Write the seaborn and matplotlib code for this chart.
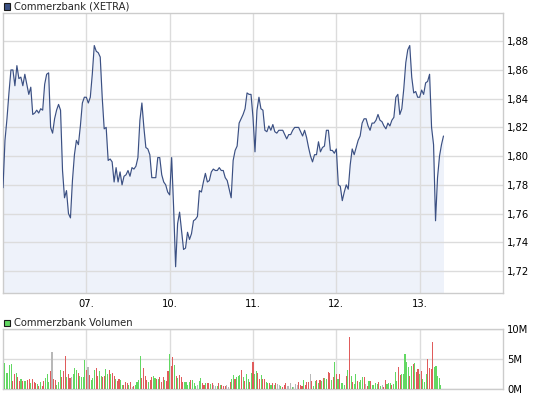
import numpy as np
import pandas as pd
import seaborn as sns
import matplotlib.pyplot as plt
from matplotlib.patches import Rectangle

# trading days shown on the x axis (weekend skipped)
day_labels = ['07.', '10.', '11.', '12.', '13.']
price_per_day = 42
vol_per_day = 51

# intraday price
price = [
    1.778, 1.811, 1.826, 1.844, 1.860, 1.860, 1.849, 1.863, 1.854, 1.855,
    1.849, 1.857, 1.850, 1.843, 1.848, 1.829, 1.830, 1.832, 1.830, 1.833,
    1.832, 1.850, 1.857, 1.858, 1.820, 1.816, 1.826, 1.832, 1.836, 1.832,
    1.790, 1.771, 1.776, 1.760, 1.757, 1.783, 1.801, 1.811, 1.808, 1.821,
    1.837, 1.841, 1.841, 1.837, 1.841, 1.857, 1.877, 1.873, 1.872, 1.869,
    1.841, 1.819, 1.820, 1.797, 1.798, 1.796, 1.782, 1.792, 1.782, 1.789,
    1.780, 1.786, 1.787, 1.790, 1.786, 1.792, 1.791, 1.793, 1.799, 1.825,
    1.837, 1.820, 1.806, 1.805, 1.801, 1.785, 1.785, 1.785, 1.799, 1.799,
    1.787, 1.782, 1.780, 1.775, 1.773, 1.799, 1.764, 1.723, 1.753, 1.761,
    1.748, 1.735, 1.736, 1.747, 1.742, 1.746, 1.755, 1.756, 1.758, 1.776,
    1.775, 1.782, 1.788, 1.782, 1.783, 1.789, 1.791, 1.790, 1.790, 1.792,
    1.790, 1.790, 1.785, 1.783, 1.777, 1.771, 1.797, 1.804, 1.807, 1.823,
    1.826, 1.829, 1.833, 1.844, 1.843, 1.843, 1.827, 1.803, 1.832, 1.841,
    1.833, 1.832, 1.818, 1.817, 1.821, 1.818, 1.822, 1.817, 1.816, 1.818,
    1.818, 1.818, 1.815, 1.812, 1.815, 1.815, 1.818, 1.820, 1.820, 1.820,
    1.817, 1.814, 1.818, 1.813, 1.806, 1.800, 1.796, 1.801, 1.801, 1.810,
    1.803, 1.806, 1.807, 1.818, 1.818, 1.804, 1.804, 1.802, 1.805, 1.780,
    1.779, 1.769, 1.775, 1.780, 1.777, 1.794, 1.805, 1.801, 1.806, 1.811,
    1.814, 1.823, 1.826, 1.826, 1.821, 1.818, 1.823, 1.823, 1.825, 1.829,
    1.825, 1.824, 1.821, 1.819, 1.823, 1.821, 1.825, 1.827, 1.841, 1.843,
    1.829, 1.833, 1.847, 1.865, 1.874, 1.877, 1.855, 1.844, 1.845, 1.841,
    1.841, 1.846, 1.843, 1.851, 1.852, 1.857, 1.820, 1.808, 1.755, 1.785,
    1.800, 1.808, 1.814,
]

# volume in millions, 10 minute bars
volume_m = [
    4.4, 2.7, 2.7, 4.0, 4.2, 1.3, 2.5, 2.7, 2.0, 1.3,
    1.7, 1.3, 1.3, 1.3, 1.5, 1.7, 1.0, 1.7, 1.2, 1.0,
    0.8, 0.5, 1.2, 0.5, 1.3, 1.8, 2.5, 1.2, 3.0, 6.2,
    1.7, 1.5, 0.7, 1.2, 3.2, 2.0, 3.0, 5.5, 2.0, 2.5,
    1.8, 2.0, 2.5, 3.5, 3.2, 2.7, 2.2, 2.0, 2.0, 4.9,
    3.2, 3.7, 2.3, 1.5, 1.8, 3.2, 3.5, 2.2, 3.0, 2.2,
    2.0, 2.2, 3.4, 2.5, 3.2, 2.5, 2.7, 2.2, 1.7, 1.3,
    1.7, 1.5, 0.7, 0.7, 1.2, 1.0, 0.7, 1.2, 0.3, 0.5,
    0.7, 1.2, 1.5, 5.5, 1.8, 3.5, 2.2, 1.5, 1.2, 1.5,
    2.0, 2.2, 1.8, 1.7, 1.7, 2.0, 1.2, 2.0, 1.5, 1.3,
    3.0, 5.9, 3.9, 5.4, 4.0, 2.2, 1.8, 2.3, 2.0, 1.2,
    1.2, 1.2, 0.7, 1.2, 1.5, 1.5, 1.0, 0.5, 0.7, 1.3,
    1.8, 1.0, 0.7, 1.0, 1.0, 1.0, 0.8, 1.0, 0.7, 0.5,
    0.5, 1.0, 0.7, 0.7, 0.5, 0.5, 0.7, 0.3, 1.2, 1.7,
    2.3, 1.7, 2.0, 2.2, 2.3, 3.2, 2.0, 1.3, 2.5, 1.7,
    1.2, 2.7, 4.5, 2.5, 3.0, 2.7, 1.7, 2.3, 1.7, 1.7,
    1.2, 1.0, 1.0, 0.7, 1.0, 0.7, 1.0, 0.8, 0.7, 0.5,
    0.3, 0.7, 1.0, 0.5, 0.5, 1.0, 0.3, 0.3, 0.8, 0.7,
    1.2, 0.7, 0.5, 1.5, 0.7, 1.2, 1.2, 2.5, 1.3, 0.5,
    1.3, 1.5, 1.0, 1.5, 1.3, 1.8, 1.8, 1.7, 2.8, 2.7,
    1.5, 2.0, 4.5, 2.5, 1.7, 2.5, 1.0, 1.0, 0.7, 2.2,
    3.2, 8.7, 2.2, 1.2, 0.8, 2.5, 1.3, 1.2, 1.5, 2.0,
    2.0, 0.8, 0.5, 1.3, 1.3, 0.7, 0.7, 1.0, 0.8, 1.2,
    0.5, 0.7, 0.3, 1.5, 0.8, 1.0, 1.0, 0.7, 0.8, 2.8,
    1.3, 3.7, 2.3, 2.5, 2.5, 5.9, 4.5, 3.7, 2.2, 3.9,
    4.2, 4.4, 2.8, 3.4, 2.5, 3.0, 1.7, 1.2, 2.5, 5.0,
    3.5, 3.4, 7.9, 3.7, 3.9, 2.2, 1.8, 0.7,
]

# g = up, r = down, n = unchanged
volume_dir = (
    "gggggrrgrr" "grggrrgrrr" "grgrrgggrn" "rrgggrrrgr" "rngggrgggg"
    "rnrgggrrgg" "rrggrgrrgr" "rggrrrgrnr" "ggggrrrrgr" "rggrgrrrgr"
    "rgrrgrgrrr" "ggggrgggng" "grrgrrgrnn" "grgrrrnnrg" "grgggrgrgg"
    "rgrggrrgrr" "ggrgrgrnng" "rrrnnngnnn" "rrrgrrrnrg" "grgrgrggrr"
    "grgrgrgggr" "grgrggrggg" "rnrgrggggr" "gnrrgggrgg" "grrgggggrg"
    "rgrrgrgggr" "rrrggggg"
)

line_color = '#3b5083'
fill_color = '#eef2fa'
grid_color = '#dcdcdc'
frame_color = '#cccccc'
dir_colors = {'g': '#62d862', 'r': '#e05c5c', 'n': '#b8b8b8'}

sns.set_style('white')
plt.rcParams['font.family'] = ['DejaVu Sans']
fs = 7.2

df = pd.DataFrame({'t': np.arange(len(price)) / price_per_day, 'price': price})
vol = pd.DataFrame({'t': (np.arange(len(volume_m)) + 1) / vol_per_day,
                    'vol': volume_m,
                    'dir': list(volume_dir)})

W, H = 545, 398
fig = plt.figure(figsize=(W / 100, H / 100), dpi=100)
ax1 = fig.add_axes([3 / W, (H - 293.3) / H, 500 / W, (293.3 - 12.5) / H])
ax2 = fig.add_axes([3 / W, (H - 389) / H, 500 / W, (389 - 329.3) / H])

ymin = 1.7045
ax1.fill_between(df['t'], df['price'], ymin, color=fill_color, lw=0, zorder=0.3)
sns.lineplot(data=df, x='t', y='price', ax=ax1, color=line_color, lw=0.85,
             estimator=None, zorder=3)
ax1.set_ylim(ymin, 1.90)
yt = [1.72, 1.74, 1.76, 1.78, 1.80, 1.82, 1.84, 1.86, 1.88]
ax1.set_yticks(yt)
ax1.set_yticklabels([f'{v:.2f}'.replace('.', ',') for v in yt])

ax2.bar(vol['t'], vol['vol'], width=0.66 / vol_per_day,
        color=[dir_colors[d] for d in vol['dir']], lw=0, zorder=3,
        antialiased=False)
ax2.set_ylim(0, 10)
ax2.set_yticks([0, 5, 10])
ax2.set_yticklabels(['0M', '5M', '10M'])

for ax in (ax1, ax2):
    ax.set_xlim(0, 6)
    ax.set_xticks([1, 2, 3, 4, 5])
    ax.set_xlabel('')
    ax.set_ylabel('')
    ax.yaxis.tick_right()
    ax.grid(True, color=grid_color, lw=1.0, zorder=0.5)
    ax.set_axisbelow(True)
    ax.tick_params(length=0, labelsize=fs, colors='black', pad=3)
    for s in ax.spines.values():
        s.set_color(frame_color)
        s.set_linewidth(1.0)
    ax.set_facecolor('white')

ax1.set_xticklabels(day_labels)
ax1.tick_params(axis='x', pad=4)
ax2.set_xticklabels([])

# small legend squares with titles
fig.patches.append(Rectangle((3.5 / W, (H - 9.8) / H), 6.5 / W, 6.5 / H,
                             transform=fig.transFigure, facecolor=line_color,
                             edgecolor='#1a1a1a', lw=0.8))
fig.text(14.5 / W, (H - 6.3) / H, 'Commerzbank (XETRA)', fontsize=fs,
         va='center', ha='left')
fig.patches.append(Rectangle((3.5 / W, (H - 326.3) / H), 6.5 / W, 6.5 / H,
                             transform=fig.transFigure, facecolor='#62d862',
                             edgecolor='#1a1a1a', lw=0.8))
fig.text(14.5 / W, (H - 322.8) / H, 'Commerzbank Volumen', fontsize=fs,
         va='center', ha='left')

fig.savefig('out.png', dpi=100)
